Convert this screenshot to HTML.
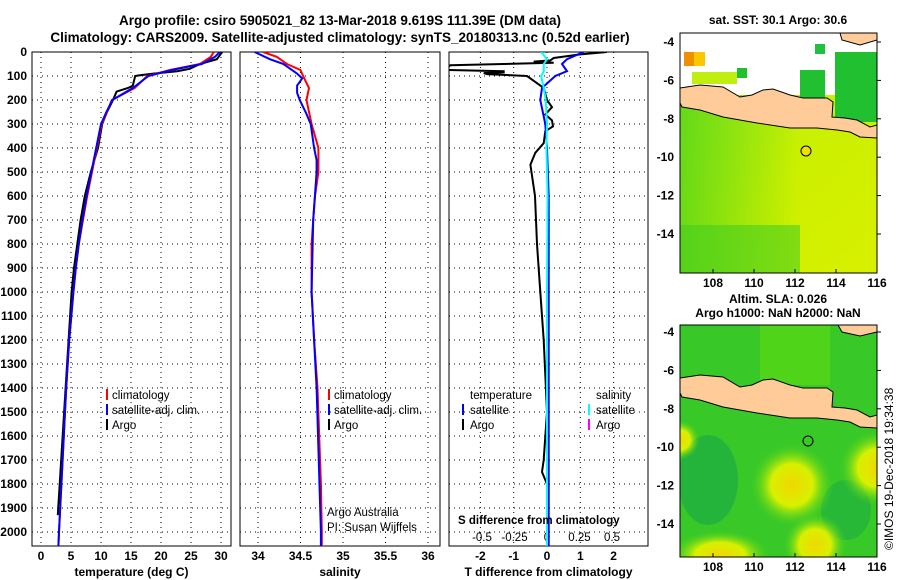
<!DOCTYPE html>
<html><head><meta charset="utf-8"><style>
html,body{margin:0;padding:0;background:#fff;}
svg{display:block;font-family:"Liberation Sans",sans-serif;}
.t{font-weight:bold;font-size:12px;fill:#000;}
.h{font-weight:bold;font-size:13.5px;fill:#000;}
.lg{font-size:11.5px;fill:#000;}
.g{stroke:#000;stroke-width:1;stroke-dasharray:1 4;fill:none;}
</style></head><body>
<svg id="c" width="900" height="580" viewBox="0 0 900 580">
<defs>
<radialGradient id="yb" cx="50%" cy="50%" r="50%"><stop offset="0" stop-color="#f0d800"/><stop offset="0.5" stop-color="#d8f000"/><stop offset="1" stop-color="#40d020" stop-opacity="0"/></radialGradient>
<linearGradient id="sst" x1="0" y1="0" x2="1" y2="1"><stop offset="0" stop-color="#b0ee10"/><stop offset="0.5" stop-color="#ccf000"/><stop offset="1" stop-color="#d8f000"/></linearGradient>
<linearGradient id="sstb" x1="0" y1="0" x2="0.6" y2="0"><stop offset="0" stop-color="#30cc20"/><stop offset="1" stop-color="#30cc20" stop-opacity="0"/></linearGradient>
<clipPath id="mc1"><rect x="680" y="33" width="197" height="240"/></clipPath>
<clipPath id="mc2"><rect x="680" y="325" width="197" height="232"/></clipPath>
</defs>
<text class="h" x="340" y="25" text-anchor="middle">Argo profile: csiro 5905021_82 13-Mar-2018 9.619S 111.39E (DM data)</text>
<text class="h" x="340" y="42" text-anchor="middle">Climatology: CARS2009. Satellite-adjusted climatology: synTS_20180313.nc (0.52d earlier)</text>
<g id="p1"></g>
<g id="p2"></g>
<g id="p3"></g>

<g>
<rect x="106" y="389" width="2" height="11" fill="#f00"/><text class="lg" x="112" y="399">climatology</text>
<rect x="106" y="404" width="2" height="11" fill="#00f"/><text class="lg" x="112" y="414">satellite-adj. clim.</text>
<rect x="106" y="419" width="2" height="11" fill="#000"/><text class="lg" x="112" y="429">Argo</text>
</g>
<g>
<rect x="328" y="389" width="2" height="11" fill="#f00"/><text class="lg" x="334" y="399">climatology</text>
<rect x="328" y="404" width="2" height="11" fill="#00f"/><text class="lg" x="334" y="414">satellite-adj. clim.</text>
<rect x="328" y="419" width="2" height="11" fill="#000"/><text class="lg" x="334" y="429">Argo</text>
<text class="lg" x="327" y="516">Argo Australia</text>
<text class="lg" x="327" y="531">PI: Susan Wijffels</text>
</g>
<g>
<text class="lg" x="470" y="399">temperature</text><text class="lg" x="596" y="399">salinity</text>
<rect x="462" y="404" width="2" height="11" fill="#00f"/><text class="lg" x="470" y="414">satellite</text>
<rect x="462" y="419" width="2" height="11" fill="#000"/><text class="lg" x="470" y="429">Argo</text>
<rect x="588" y="404" width="2" height="11" fill="#0ff"/><text class="lg" x="596" y="414">satellite</text>
<rect x="588" y="419" width="2" height="11" fill="#f0f"/><text class="lg" x="596" y="429">Argo</text>
<text class="lg" x="458" y="524" style="font-weight:bold">S difference from climatology</text>
</g>

<g>
<text class="t" x="778" y="24" text-anchor="middle">sat. SST: 30.1 Argo: 30.6</text>
<g clip-path="url(#mc1)">
<rect x="680" y="33" width="197" height="240" fill="#fff"/>
<rect x="680" y="95" width="197" height="178" fill="url(#sst)"/>
<rect x="680" y="95" width="197" height="178" fill="url(#sstb)" opacity="0.6"/>
<rect x="680" y="225" width="120" height="48" fill="#40cc20" opacity="0.55"/>
<rect x="835" y="52" width="42" height="70" fill="#20c030"/>
<rect x="800" y="70" width="25" height="30" fill="#20c030"/>
<rect x="815" y="44" width="10" height="10" fill="#20c040"/>
<rect x="684" y="52" width="10" height="14" fill="#f09000"/>
<rect x="694" y="52" width="11" height="14" fill="#f8c800"/>
<rect x="692" y="72" width="45" height="12" fill="#c0ee10"/>
<rect x="737" y="68" width="10" height="10" fill="#20c030"/>
<polygon id="java" fill="#ffcc99" stroke="#000" stroke-width="1" points="680,88 700,85 723,87 740,97 752,95 763,90 773,89 790,95 803,98 827,98 833,102 832,117 845,118 857,120 870,127 877,125 877,138 860,137 850,132 837,130 817,128 790,128 757,123 723,117 700,110 682,107 680,103"/>
<polygon fill="#ffcc99" stroke="#000" points="840,33 877,33 877,40 860,45 842,40"/>
<circle cx="806" cy="151" r="5" fill="#f0e000" stroke="#000"/>
</g>
<rect x="680" y="33" width="197" height="240" fill="none" stroke="#000"/>
<g id="m1t"></g>
</g>
<g>
<text class="t" x="778" y="303" text-anchor="middle">Altim. SLA: 0.026</text>
<text class="t" x="778" y="317" text-anchor="middle">Argo h1000: NaN h2000: NaN</text>
<g clip-path="url(#mc2)">
<rect x="680" y="325" width="197" height="232" fill="#38c828"/>
<rect x="760" y="325" width="70" height="60" fill="#60dc10" opacity="0.6"/>
<ellipse cx="708" cy="480" rx="30" ry="45" fill="#10a050" opacity="0.5"/>
<ellipse cx="846" cy="510" rx="25" ry="30" fill="#10a050" opacity="0.4"/>
<circle cx="792" cy="485" r="42" fill="url(#yb)"/>
<circle cx="815" cy="545" r="32" fill="url(#yb)"/>
<circle cx="877" cy="468" r="38" fill="url(#yb)"/>
<ellipse cx="720" cy="555" rx="50" ry="25" fill="url(#yb)"/>
<circle cx="680" cy="440" r="20" fill="url(#yb)"/>
<use href="#java" transform="translate(0,290)"/>
<polygon fill="#ffcc99" stroke="#000" points="838,325 877,325 877,332 860,336 842,332"/>
<circle cx="808" cy="441" r="5" fill="none" stroke="#000"/>
</g>
<rect x="680" y="325" width="197" height="232" fill="none" stroke="#000"/>
<g id="m2t"></g>
</g>
<text x="893" y="550" font-size="12" transform="rotate(-90 893 550)">©IMOS 19-Dec-2018 19:34:38</text>
</svg>
<script>
const depthTicks=[0,100,200,300,400,500,600,700,800,900,1000,1100,1200,1300,1400,1500,1600,1700,1800,1900,2000];
const tTicks=[0,5,10,15,20,25,30];
const sTicks=[34,34.5,35,35.5,36];
const dTicks=[-2,-1,0,1,2];
const dsTickLabels=["-0.5","-0.25","0","0.25","0.5"];
const climDepth=[0,20,50,75,100,150,200,250,300,400,500,600,700,800,900,1000,1200,1400,1600,1800,2000,2058];
const climT=[28.8,28.3,26.5,21.5,17.7,15.6,11.8,11.0,10.1,9.3,8.5,7.7,7.0,6.3,5.8,5.4,4.7,4.2,3.8,3.4,3.0,2.9];
const satT=[29.8,29.0,26.8,21.8,17.9,15.3,11.9,10.9,10.0,9.2,8.4,7.6,6.9,6.3,5.8,5.4,4.7,4.2,3.8,3.4,3.0,2.9];
const argoDepth=[0,30,50,70,80,90,97,100,140,150,165,200,250,300,400,500,600,700,900,1000,1400,1930];
const argoT=[30.2,29.3,26.5,24.8,22.7,18.7,16.5,15.7,15.3,14.5,12.6,12.0,11.0,10.2,9.5,8.3,7.3,6.6,5.5,5.1,4.1,2.8];
const climS=[34.06,34.22,34.34,34.5,34.53,34.6,34.57,34.6,34.63,34.71,34.71,34.67,34.65,34.63,34.63,34.63,34.66,34.7,34.72,34.74,34.75,34.75];
const satSDepth=[0,30,50,90,110,140,170,200,250,300,400,450,500,700,1000,1400,2000,2058];
const satS=[33.96,34.14,34.3,34.46,34.52,34.46,34.46,34.49,34.56,34.62,34.66,34.69,34.69,34.65,34.63,34.69,34.74,34.74];
const dTDepth=[0,10,25,35,40,45,55,65,75,80,85,88,92,100,120,150,200,230,260,285,310,330,380,420,470,600,800,1000,1200,1500,1700,1750,1800,1850];
const dTArgo=[1.8,1.0,0.2,0.1,-0.4,0.2,-2.9,-3.0,-3.0,-1.3,-1.3,-1.9,-1.8,-0.6,-0.4,-0.1,0.0,0.15,-0.05,0.15,0.18,-0.05,-0.1,-0.35,-0.5,-0.36,-0.3,-0.2,-0.1,0.0,-0.1,-0.15,0.0,0.0];
const dSatDepth=[0,30,50,80,100,150,200,300,400,600,1000,1500,2058];
const dTSat=[1.1,0.6,0.45,0.6,0.25,-0.15,-0.2,-0.05,0.0,0.05,0.05,0.05,0.05];
const dSSat=[-0.045,0.0,-0.025,-0.025,-0.045,-0.025,-0.01,0.0,-0.005,0.005,0.0,0.0,0.0];
const lonTicks=[108,110,112,114,116];
const latTicks=[-4,-6,-8,-10,-12,-14];

const NS="http://www.w3.org/2000/svg";
function mk(tag,attrs,parent){const e=document.createElementNS(NS,tag);for(const k in attrs)e.setAttribute(k,attrs[k]);parent.appendChild(e);return e;}
const Y=d=>52+d*0.24;
const plotTop=52,plotBot=546;
function panel(g,x0,x1,xs,ticks,xlabel){
  for(const d of depthTicks){const l=mk('line',{x1:x0,x2:x1,y1:Y(d),y2:Y(d),class:'g'},g);
    
    }
  ticks.forEach(v=>{const x=xs(v);const l=mk('line',{x1:x,x2:x,y1:plotTop,y2:plotBot,class:'g'},g);
    
    
    const t=mk('text',{x:x,y:560,class:'t','text-anchor':'middle'},g);t.textContent=v;
    
    });
  const r=mk('rect',{x:x0,y:plotTop,width:x1-x0,height:plotBot-plotTop,fill:'none',stroke:'#000'},g);
  
  
  const xl=mk('text',{x:(x0+x1)/2,y:576,class:'t','text-anchor':'middle'},g);xl.textContent=xlabel;
  
  
}
function line(g,depths,vals,xs,color,name){
  const pts=depths.map((d,i)=>xs(vals[i]).toFixed(1)+','+Y(d).toFixed(1)).join(' ');
  const p=mk('polyline',{points:pts,fill:'none',stroke:color,'stroke-width':2},g);
  
  
}
const p1=document.getElementById('p1'),p2=document.getElementById('p2'),p3=document.getElementById('p3');
const xT=v=>41+v*6, xS=v=>258+(v-34)*85, xD=v=>547+v*33.3, xDS=v=>547+v*130;
const defs=document.querySelector('#c defs');
function clip(id,x0,x1){const cp=mk('clipPath',{id:id},defs);mk('rect',{x:x0,y:plotTop,width:x1-x0,height:plotBot-plotTop},cp);}
clip('c1',32,231);clip('c2',240,440);clip('c3',449,648);
panel(p1,32,231,xT,tTicks,'temperature (deg C)');
panel(p2,240,440,xS,sTicks,'salinity');
panel(p3,449,648,xD,dTicks,'T difference from climatology');
for(const d of depthTicks){const t=mk('text',{x:27,y:Y(d)+4,class:'t','text-anchor':'end'},p1);t.textContent=d;
  
  }
dsTickLabels.forEach(s=>{const t=mk('text',{x:xDS(parseFloat(s)),y:541,class:'lg','text-anchor':'middle'},p3);t.textContent=s;
  
  });
const g1=mk('g',{'clip-path':'url(#c1)'},p1),g2=mk('g',{'clip-path':'url(#c2)'},p2),g3=mk('g',{'clip-path':'url(#c3)'},p3);
line(g1,argoDepth,argoT,xT,'#000','argo-temperature-line');
line(g1,climDepth,climT,xT,'#f00','climatology-temperature-line');
line(g1,climDepth,satT,xT,'#00f','satellite-temperature-line');
line(g2,climDepth,climS,xS,'#f00','climatology-salinity-line');
line(g2,satSDepth,satS,xS,'#00f','satellite-salinity-line');
line(g3,dTDepth,dTArgo,xD,'#000','argo-t-diff-line');
line(g3,dSatDepth,dTSat,xD,'#00f','satellite-t-diff-line');
line(g3,dSatDepth,dSSat,xDS,'#0ff','satellite-s-diff-line');
function mapTicks(gid,y0,yb){const g=document.getElementById(gid);
  const lx=v=>713+(v-108)*20.5, ly=v=>y0+(-4-v)*19.2;
  lonTicks.forEach(v=>{const t=mk('text',{x:lx(v),y:yb,class:'t','text-anchor':'middle'},g);t.textContent=v;
    
    
    mk('line',{x1:lx(v),x2:lx(v),y1:yb-14,y2:yb-18,stroke:'#000'},g);});
  latTicks.forEach(v=>{const t=mk('text',{x:674,y:ly(v)+4,class:'t','text-anchor':'end'},g);t.textContent=v;
    
    
    mk('line',{x1:877,x2:881,y1:ly(v),y2:ly(v),stroke:'#000'},g);});
}
mapTicks('m1t',42,287);mapTicks('m2t',332,571);
</script>
</body></html>
